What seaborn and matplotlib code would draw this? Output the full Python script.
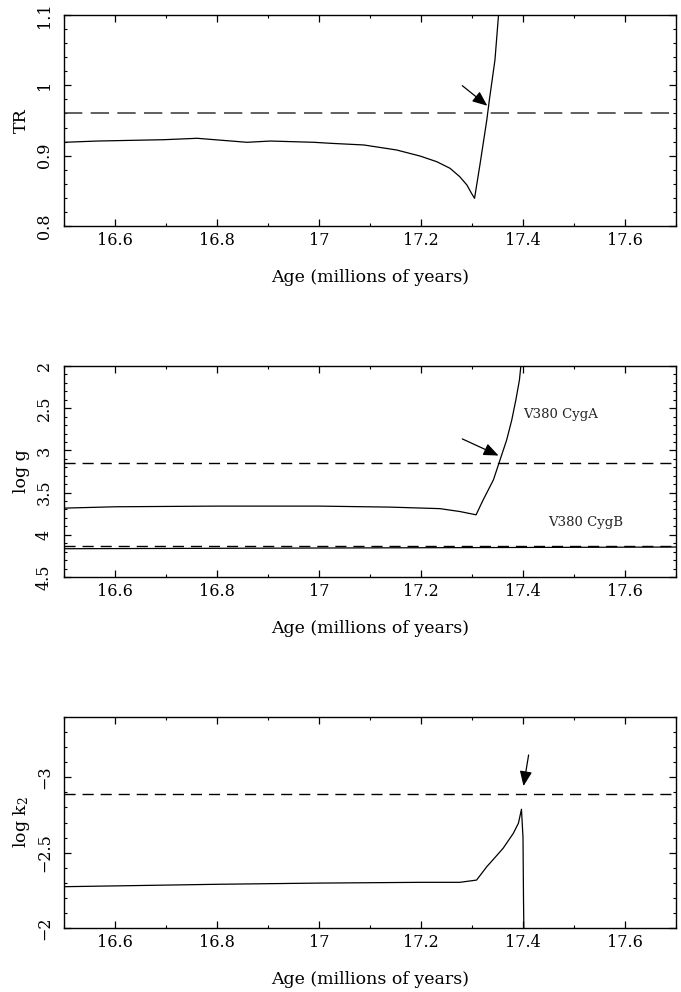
import matplotlib
matplotlib.use("Agg")
import matplotlib.pyplot as plt
import seaborn as sns
from matplotlib.ticker import MultipleLocator, FuncFormatter

# ---------------- data ----------------
# Panel 1: TR vs age
tr_age = [16.5, 16.565, 16.696, 16.761, 16.859, 16.905, 16.990, 17.022, 17.088, 17.152,
          17.198, 17.231, 17.257, 17.276, 17.290, 17.299, 17.305, 17.316, 17.329, 17.334,
          17.345, 17.352, 17.356]
tr_val = [0.919, 0.9208, 0.9227, 0.9247, 0.919, 0.9208, 0.919, 0.9176, 0.9152, 0.9081,
          0.8995, 0.8914, 0.882, 0.8701, 0.8583, 0.8465, 0.8394, 0.8891, 0.9507, 0.979,
          1.036, 1.10, 1.13]
tr_obs = 0.96
tr_arrow_tail = (17.281, 0.9995)
tr_arrow_tip = (17.330, 0.971)

# Panel 2: log g vs age
ga_age = [16.5, 16.6, 16.8, 17.0, 17.14, 17.237, 17.276, 17.308, 17.322, 17.342,
          17.355, 17.368, 17.378, 17.386, 17.393, 17.397, 17.399]
ga_val = [3.684, 3.668, 3.66, 3.66, 3.672, 3.690, 3.724, 3.763, 3.585, 3.349,
          3.112, 2.876, 2.639, 2.402, 2.166, 1.929, 1.85]
gb_age = [16.5, 17.1, 17.7]
gb_val = [4.165, 4.155, 4.145]
ga_obs = 3.15
gb_obs = 4.13
g_arrow_tail = (17.281, 2.864)
g_arrow_tip = (17.352, 3.061)
label_a = "V380 CygA"
label_a_pos = (17.40, 2.57)
label_b = "V380 CygB"
label_b_pos = (17.45, 3.855)

# Panel 3: log k2 vs age
k2_age = [16.5, 16.8, 17.0, 17.2, 17.276, 17.309, 17.329, 17.342, 17.361, 17.381,
          17.391, 17.397, 17.400, 17.401, 17.402]
k2_val = [-2.274, -2.290, -2.298, -2.303, -2.303, -2.318, -2.407, -2.456, -2.529, -2.628,
          -2.695, -2.788, -2.60, -2.186, -1.9]
k2_obs = -2.89
k_arrow_tail = (17.411, -3.148)
k_arrow_tip = (17.401, -2.942)

xticks_major = 0.2
xticks_minor = 0.1
xlabel = "Age (millions of years)"

# ---------------- style ----------------
sns.set_style("ticks")
plt.rcParams['font.family'] = ['DejaVu Serif']
plt.rcParams['mathtext.fontset'] = 'dejavuserif'

fig = plt.figure(figsize=(6.81, 9.92), dpi=100)

L, W, H = 64/681, 612/681, 211/992
bottoms = [(992-226)/992, (992-577)/992, (992-928)/992]

fmt = FuncFormatter(lambda v, p: ("%g" % round(v, 6)).replace("-", "\u2212"))


def style_axis(ax, ylim, ymaj, ymin, ylabel):
    ax.set_xlim(16.5, 17.7)
    ax.set_ylim(*ylim)
    ax.xaxis.set_major_locator(MultipleLocator(xticks_major))
    ax.xaxis.set_minor_locator(MultipleLocator(xticks_minor))
    ax.yaxis.set_major_locator(MultipleLocator(ymaj))
    ax.yaxis.set_minor_locator(MultipleLocator(ymin))
    ax.xaxis.set_major_formatter(fmt)
    ax.yaxis.set_major_formatter(fmt)
    ax.tick_params(which='both', direction='in', top=True, right=True, color='black')
    ax.tick_params(which='major', length=5, width=0.9)
    ax.tick_params(which='minor', length=2.5, width=0.8)
    ax.tick_params(axis='x', labelsize=11.5, pad=4, labelcolor='black')
    ax.tick_params(axis='y', labelsize=11.5, pad=8, labelcolor='black')
    for lab in ax.get_yticklabels():
        lab.set_rotation(90)
        lab.set_va('center')
    for s in ax.spines.values():
        s.set_visible(True)
        s.set_linewidth(1.0)
        s.set_color('black')
    ax.set_xlabel(xlabel, fontsize=12.5, color='black')
    ax.xaxis.label.set_va('center')
    ax.xaxis.set_label_coords(0.5, -0.242)
    ax.set_ylabel(ylabel, fontsize=12.5, color='black')
    ax.yaxis.label.set_va('center')
    ax.yaxis.set_label_coords(-0.070, 0.5)


arrowstyle = '-|>,head_length=0.6,head_width=0.25'

# Panel 1
ax1 = fig.add_axes([L, bottoms[0], W, H])
sns.lineplot(x=tr_age, y=tr_val, ax=ax1, color='black', lw=0.9, sort=False, estimator=None)
ax1.axhline(tr_obs, color='#444444', lw=1.2, dashes=(11, 5))
style_axis(ax1, (0.8, 1.1), 0.1, 0.02, "TR")
ax1.annotate('', xy=tr_arrow_tip, xytext=tr_arrow_tail,
             arrowprops=dict(arrowstyle=arrowstyle, color='black', lw=0.9,
                             mutation_scale=15, shrinkA=0, shrinkB=0))

# Panel 2
ax2 = fig.add_axes([L, bottoms[1], W, H])
sns.lineplot(x=ga_age, y=ga_val, ax=ax2, color='black', lw=0.9, sort=False, estimator=None)
sns.lineplot(x=gb_age, y=gb_val, ax=ax2, color='black', lw=0.9, sort=False, estimator=None)
ax2.axhline(ga_obs, color='black', lw=1.0, dashes=(8, 5))
ax2.axhline(gb_obs, color='black', lw=1.0, dashes=(8, 5))
style_axis(ax2, (4.5, 2.0), 0.5, 0.1, "log g")
ax2.annotate('', xy=g_arrow_tip, xytext=g_arrow_tail,
             arrowprops=dict(arrowstyle=arrowstyle, color='black', lw=0.9,
                             mutation_scale=15, shrinkA=0, shrinkB=0))
ax2.text(*label_a_pos, label_a, fontsize=9.5, ha='left', va='center')
ax2.text(*label_b_pos, label_b, fontsize=9.5, ha='left', va='center')

# Panel 3
ax3 = fig.add_axes([L, bottoms[2], W, H])
sns.lineplot(x=k2_age, y=k2_val, ax=ax3, color='black', lw=0.9, sort=False, estimator=None)
ax3.axhline(k2_obs, color='black', lw=1.0, dashes=(8, 5))
style_axis(ax3, (-2.0, -3.4), 0.5, 0.1, "log k$_2$")
ax3.annotate('', xy=k_arrow_tip, xytext=k_arrow_tail,
             arrowprops=dict(arrowstyle=arrowstyle, color='black', lw=0.9,
                             mutation_scale=15, shrinkA=0, shrinkB=0))

fig.savefig("out.png", dpi=100)
